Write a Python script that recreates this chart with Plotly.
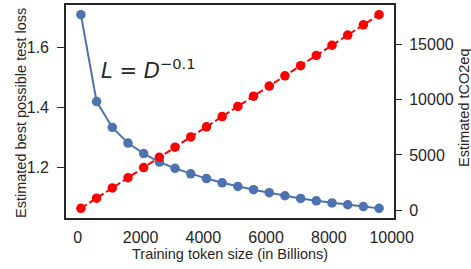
import plotly.graph_objects as go

tokens = [100, 600, 1100, 1600, 2100, 2600, 3100, 3600, 4100, 4600,
          5100, 5600, 6100, 6600, 7100, 7600, 8100, 8600, 9100, 9600]
loss = [1.709, 1.420, 1.334, 1.282, 1.247, 1.219, 1.198, 1.180, 1.164, 1.150,
        1.138, 1.127, 1.117, 1.107, 1.098, 1.090, 1.083, 1.077, 1.071, 1.065]
tco2 = [184, 1104, 2024, 2944, 3864, 4784, 5704, 6624, 7544, 8464,
        9384, 10304, 11224, 12144, 13064, 13984, 14904, 15824, 16744, 17664]

x_ticks = [0, 2000, 4000, 6000, 8000, 10000]
left_ticks = [1.2, 1.4, 1.6]
right_ticks = [0, 5000, 10000, 15000]

x_title = "Training token size (in Billions)"
left_title = "Estimated best possible test loss"
right_title = "Estimated tCO2eq"

FONT = "Liberation Sans, Arial, sans-serif"
DARK = "#262626"

fig = go.Figure()
fig.add_trace(go.Scatter(
    x=tokens, y=loss, mode="lines+markers",
    line=dict(color="#4C72B0", width=2),
    marker=dict(color="#4C72B0", size=9.5),
    showlegend=False, yaxis="y"))
fig.add_trace(go.Scatter(
    x=tokens, y=tco2, mode="lines+markers",
    line=dict(color="#FF0000", width=2, dash="7px,3px"),
    marker=dict(color="#FF0000", size=9.5),
    showlegend=False, yaxis="y2"))

axis_common = dict(
    ticks="outside", tickwidth=1.25,
    showgrid=False, zeroline=False, automargin=False,
    tickfont=dict(family=FONT, size=16, color=DARK),
)

fig.update_layout(
    template="none",
    width=471, height=269,
    margin=dict(l=66, r=77, t=5, b=51),
    paper_bgcolor="white", plot_bgcolor="white",
    font=dict(family=FONT, color=DARK),
    xaxis=dict(
        range=[-375, 10075], tickvals=x_ticks, ticktext=[str(v) for v in x_ticks],
        showline=True, linecolor=DARK, linewidth=1.6, mirror=True,
        ticklen=4, tickcolor="rgba(0,0,0,0)", ticklabelstandoff=0,
        **axis_common),
    yaxis=dict(
        range=[1.033, 1.741], tickvals=left_ticks,
        ticktext=[f"{v:.1f}" for v in left_ticks],
        showline=True, linecolor=DARK, linewidth=1.6, mirror=True,
        ticklen=7, tickcolor=DARK, ticklabelstandoff=5,
        **axis_common),
    yaxis2=dict(
        range=[-690, 18538], tickvals=right_ticks,
        ticktext=[str(v) for v in right_ticks],
        overlaying="y", side="right", showline=False,
        ticklen=7, tickcolor=DARK, ticklabelstandoff=4,
        **axis_common),
)

title_font = dict(family=FONT, size=14.5, color=DARK)
fig.add_annotation(x=(230 - 66) / 328, y=(218 - 254) / 213, xref="x domain", yref="y domain",
                   text=x_title, showarrow=False, font=title_font,
                   xanchor="center", yanchor="middle")
fig.add_annotation(x=(21 - 66) / 328, y=(218 - 113) / 213, xref="x domain", yref="y domain",
                   text=left_title, showarrow=False, font=title_font, textangle=-90,
                   xanchor="center", yanchor="middle")
fig.add_annotation(x=(464 - 66) / 328, y=(218 - 108) / 213, xref="x domain", yref="y domain",
                   text=right_title, showarrow=False, font=title_font, textangle=-90,
                   xanchor="center", yanchor="middle")

fig.add_annotation(
    x=0.10, y=0.70, xref="paper", yref="paper", xanchor="left", yanchor="middle",
    text="<i>L</i> = <i>D</i><sup>−0.1</sup>", showarrow=False,
    font=dict(family="DejaVu Sans", size=21, color=DARK))

fig.write_html("out.html", config={"displayModeBar": False},
               post_script="document.body.style.margin='0';")
